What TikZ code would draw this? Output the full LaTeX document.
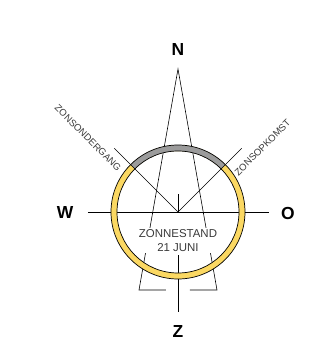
\documentclass[tikz,border=0pt]{standalone}
\usepackage{fontspec}
\setmainfont{Liberation Sans}
\definecolor{ringyellow}{HTML}{FBD862}
\definecolor{ringgray}{HTML}{9B9B9B}
\definecolor{txtgray}{HTML}{3A3A3A}
\begin{document}
\begin{tikzpicture}[x=1bp,y=1bp,line width=0.6bp,
  compass/.style={font=\fontsize{17.5}{18}\selectfont\bfseries,inner sep=0pt},
  smalllabel/.style={font=\fontsize{9.6}{10}\selectfont,text=txtgray,inner sep=0pt},
  centerlabel/.style={font=\fontsize{11.5}{13.5}\selectfont,text=txtgray,align=center,fill=white,inner sep=1.5bp}]
\useasboundingbox (-178,-148) rectangle (142,212);
% coordinates
\coordinate (c) at (0,0);
\coordinate (apex) at (0,143);
\coordinate (bl) at (-39,-78);
\coordinate (br) at (39,-78);
\coordinate (bli) at (-12,-78);
\coordinate (bri) at (12,-78);
\coordinate (we) at (-90,0);
\coordinate (ea) at (91,0);
\coordinate (vt) at (0,18);
\coordinate (vb1) at (0,-43);
\coordinate (vb2) at (0,-100);
\coordinate (sw) at (135:90);
\coordinate (se) at (45:90);
% lines
\draw (we) -- (ea);
\draw (c) -- (vt);
\draw (vb1) -- (vb2);
\draw (bli) -- (bl) -- (apex) -- (br) -- (bri);
\draw (sw) -- (c) -- (se);
% center text
\node[centerlabel] (zs) at (0,-28.5) {ZONNESTAND\\21 JUNI};
% ring
\fill[ringyellow,even odd rule] (c) circle (67bp) (c) circle (61bp);
\fill[ringgray] (45:67) arc (45:135:67bp) -- (135:61) arc (135:45:61bp) -- cycle;
\draw[line width=0.7bp] (c) circle (67bp) (c) circle (61bp);
\draw[line width=0.7bp] (45:61) -- (45:67) (135:61) -- (135:67);
% compass letters
\node[compass] (n) at (0,162) {N};
\node[compass] (z) at (0,-119) {Z};
\node[compass] (w) at (-113,-1) {W};
\node[compass] (o) at (110,-1) {O};
% rotated labels
\node[smalllabel,rotate=-45] (ond) at (-90,74) {ZONSONDERGANG};
\node[smalllabel,rotate=45] (opk) at (84.5,64.5) {ZONSOPKOMST};
\end{tikzpicture}
\end{document}
